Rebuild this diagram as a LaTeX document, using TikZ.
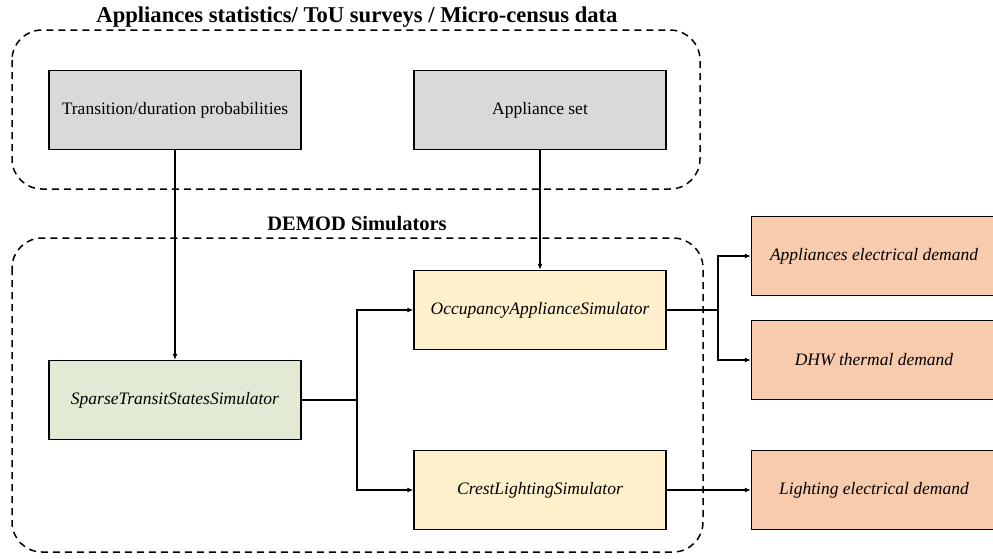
\documentclass[tikz,border=0pt]{standalone}
\usepackage{fontspec}
\setmainfont{Liberation Serif}
\usetikzlibrary{arrows.meta,positioning}
\begin{document}
\begin{tikzpicture}[x=1pt,y=-1pt,
  box/.style={draw=black,line width=1.3pt,minimum width=252pt,minimum height=79pt,font=\fontsize{17.5}{20}\selectfont,inner sep=0pt},
  gray/.style={box,fill={rgb,255:red,217;green,217;blue,217}},
  green/.style={box,fill={rgb,255:red,226;green,234;blue,214},font=\fontsize{17.5}{20}\selectfont\itshape},
  yel/.style={box,fill={rgb,255:red,255;green,240;blue,204},font=\fontsize{17.5}{20}\selectfont\itshape},
  org/.style={box,fill={rgb,255:red,248;green,203;blue,173},minimum width=245pt,font=\fontsize{17.5}{20}\selectfont\itshape},
  grp/.style={draw=black,line width=1.5pt,dash pattern=on 7pt off 5pt,rounded corners=30pt},
  ttl/.style={font=\fontsize{22.6}{24}\selectfont\bfseries},
  conn/.style={line width=1.3pt,-{Latex[length=6pt,width=5pt]}},
  line/.style={line width=1.3pt}]
\useasboundingbox (0,0) rectangle (993,558);
\draw[grp] (12,30) rectangle (700,189);
\draw[grp] (12,238) rectangle (703,552);
\node[ttl] (t1) at (357,17) {Appliances statistics/ ToU surveys / Micro-census data};
\node[ttl,font=\fontsize{20.5}{24}\selectfont\bfseries] (t2) at (357,224) {DEMOD Simulators};
\node[gray] (tp) at (175,110) {Transition/duration probabilities};
\node[gray] (as) at (540,110) {Appliance set};
\node[green] (sp) at (175,400) {SparseTransitStatesSimulator};
\node[yel] (oa) at (540,310) {OccupancyApplianceSimulator};
\node[yel] (cl) at (540,490) {CrestLightingSimulator};
\node[org] (ae) at (874,256) {Appliances electrical demand};
\node[org] (dhw) at (874,360) {DHW thermal demand};
\node[org] (le) at (874,490) {Lighting electrical demand};
\coordinate (j1) at (357,400);
\coordinate (j2) at (718,310);
\draw[conn] (tp.south) -- (sp.north);
\draw[conn] (as.south) -- (oa.north);
\draw[line] (sp.east) -- (j1);
\draw[conn] (j1) |- (oa.west);
\draw[conn] (j1) |- (cl.west);
\draw[line] (oa.east) -- (j2);
\draw[conn] (j2) |- (ae.west);
\draw[conn] (j2) |- (dhw.west);
\draw[conn] (cl.east) -- (le.west);
\end{tikzpicture}
\end{document}
